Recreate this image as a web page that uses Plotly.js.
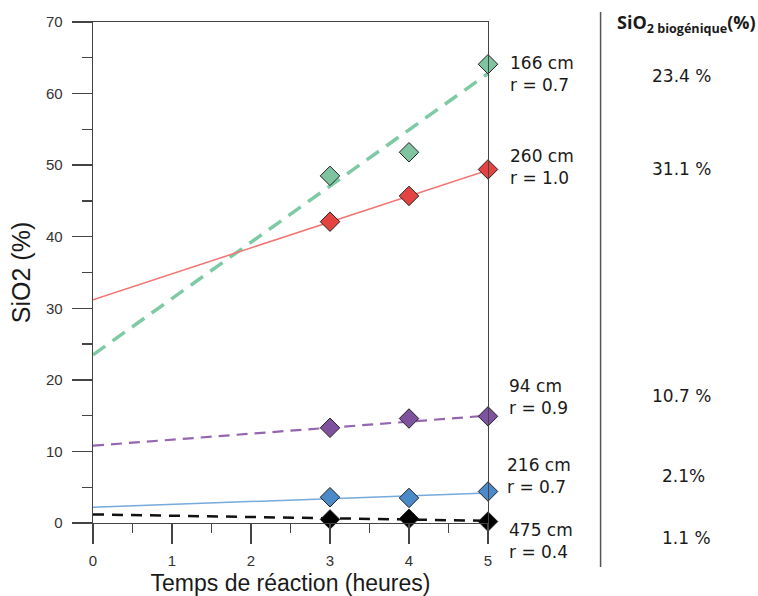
<!DOCTYPE html>
<html>
<head>
<meta charset="utf-8">
<script src="https://cdn.plot.ly/plotly-3.0.1.min.js"></script>
<style>html,body{margin:0;padding:0;background:#fff;}</style>
</head>
<body>
<div id="chart" style="width:758px;height:596px;"></div>
<script>
// ---- Data ----
const times = [3, 4, 5];
const depths = ['166 cm', '260 cm', '94 cm', '216 cm', '475 cm'];
const rLabels = ['r = 0.7', 'r = 1.0', 'r = 0.9', 'r = 0.7', 'r = 0.4'];
const sio2_166 = [48.5, 51.8, 64.1];
const sio2_260 = [42.1, 45.7, 49.4];
const sio2_94 = [13.3, 14.6, 14.9];
const sio2_216 = [3.6, 3.5, 4.4];
const sio2_475 = [0.5, 0.6, 0.2];
const fitTimes = [0, 5];
const fit_166 = [23.5, 62.8];
const fit_260 = [31.2, 49.3];
const fit_94 = [10.8, 15.0];
const fit_216 = [2.2, 4.2];
const fit_475 = [1.2, 0.3];
const biogenicLabels = ['23.4 %', '31.1 %', '10.7 %', '2.1%', '1.1 %'];
const xTickVals = [0, 1, 2, 3, 4, 5];
const yTickVals = [0, 10, 20, 30, 40, 50, 60, 70];

// ---- Styles ----
const series = [
  {pts: sio2_166, fit: fit_166, mcol: '#7fc4a1', lcol: '#7ecaa5', lw: 3.5, dash: '15px,9px'},
  {pts: sio2_260, fit: fit_260, mcol: '#e34441', lcol: '#f27573', lw: 1.5, dash: 'solid'},
  {pts: sio2_94,  fit: fit_94,  mcol: '#7f529f', lcol: '#9566b0', lw: 2.2, dash: '11px,7px'},
  {pts: sio2_216, fit: fit_216, mcol: '#4a8ac8', lcol: '#76a9dc', lw: 1.5, dash: 'solid'},
  {pts: sio2_475, fit: fit_475, mcol: '#000000', lcol: '#111111', lw: 2.5, dash: '11px,8px'}
];

const traces = [];
series.forEach((s, i) => {
  traces.push({x: fitTimes, y: s.fit, mode: 'lines', type: 'scatter',
    line: {color: s.lcol, width: s.lw, dash: s.dash}, hoverinfo: 'skip', showlegend: false, cliponaxis: false});
});
series.forEach((s, i) => {
  traces.push({x: times, y: s.pts, mode: 'markers', type: 'scatter', name: depths[i],
    marker: {symbol: 'diamond', size: 15, color: s.mcol, line: {color: '#222', width: 1}},
    showlegend: false, cliponaxis: false});
});

// label positions (paper units) and x shifts
const labelY = [0.896, 0.711, 0.252, 0.094, -0.035];
const labelShift = [20, 20, 19, 17, 19];
const rightX = [1.490, 1.489, 1.490, 1.494, 1.503];
const rightY = [0.893, 0.707, 0.254, 0.094, -0.029];

const annFont = {family: 'DejaVu Sans', size: 17, color: '#1a1a1a'};
const annotations = [];
depths.forEach((d, i) => {
  annotations.push({xref: 'x', yref: 'paper', x: 5, y: labelY[i], xshift: labelShift[i],
    text: d + '<br>' + rLabels[i], align: 'left',
    showarrow: false, xanchor: 'left', yanchor: 'middle', font: annFont});
  annotations.push({xref: 'paper', yref: 'paper', x: rightX[i], y: rightY[i], text: biogenicLabels[i],
    showarrow: false, xanchor: 'center', yanchor: 'middle', font: annFont});
});
annotations.push({xref: 'paper', yref: 'paper', x: 1.322, y: 0.998,
  text: '<b>SiO<sub>2 biogénique</sub>(%)</b>', showarrow: false, xanchor: 'left', yanchor: 'middle',
  font: {family: 'Open Sans', size: 18, color: '#1a1a1a'}});

const layout = {
  width: 758, height: 596,
  margin: {l: 93, r: 270, t: 22, b: 73},
  paper_bgcolor: '#fff', plot_bgcolor: '#fff',
  showlegend: false,
  xaxis: {
    range: [0, 5], tickvals: xTickVals, showgrid: false, zeroline: false,
    showline: true, linecolor: '#444', linewidth: 1.3, mirror: true,
    ticks: 'outside', ticklen: 20, tickwidth: 1.3, tickcolor: '#444',
    minor: {dtick: 0.5, ticks: 'outside', ticklen: 9, tickwidth: 1.3, tickcolor: '#444', showgrid: false},
    tickfont: {family: 'Liberation Sans', size: 15, color: '#333'},
    ticklabelstandoff: 4,
    title: {text: 'Temps de réaction (heures)', font: {family: 'Liberation Sans', size: 23, color: '#1a1a1a'}, standoff: 6}
  },
  yaxis: {
    range: [0, 70], tickvals: yTickVals, showgrid: false, zeroline: false,
    showline: true, linecolor: '#444', linewidth: 1.3, mirror: true,
    ticks: 'outside', ticklen: 20, tickwidth: 1.3, tickcolor: '#444',
    minor: {dtick: 5, ticks: 'outside', ticklen: 10, tickwidth: 1.3, tickcolor: '#444', showgrid: false},
    tickfont: {family: 'Liberation Sans', size: 15, color: '#333'},
    ticklabelstandoff: 6,
    title: {text: 'SiO2 (%)', font: {family: 'Liberation Sans', size: 25, color: '#1a1a1a'}, standoff: 8}
  },
  shapes: [{type: 'line', xref: 'paper', yref: 'paper', x0: 1.285, x1: 1.285, y0: 1.02, y1: -0.088,
    line: {color: '#555', width: 1.5}}],
  annotations: annotations
};

Plotly.newPlot('chart', traces, layout, {displayModeBar: false, staticPlot: true});
</script>
</body>
</html>
